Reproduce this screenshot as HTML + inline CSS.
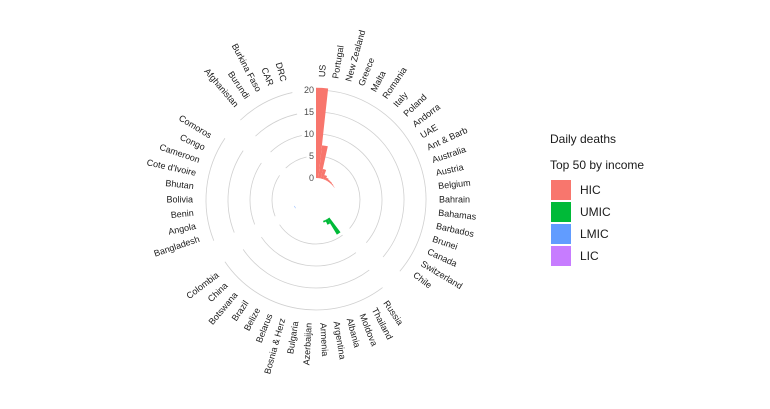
<!DOCTYPE html>
<html><head><meta charset="utf-8"><style>
body{margin:0;background:#fff;font-family:"Liberation Sans",sans-serif}
svg text{font-family:"Liberation Sans",sans-serif}
</style></head><body>
<svg id="chart" width="770" height="404" viewBox="0 0 770 404">
<g id="grid"></g>
<g id="bars"></g>
<g id="xlabels"></g>
<g id="ylabels"></g>
<g>
<text x="550" y="143" font-size="12" fill="#1a1a1a">Daily deaths</text>
<text x="550" y="169" font-size="12" fill="#1a1a1a">Top 50 by income</text>
<rect x="551" y="180" width="20" height="20" fill="#F8766D"/>
<text x="580" y="194" font-size="12" fill="#1a1a1a">HIC</text>
<rect x="551" y="202" width="20" height="20" fill="#00BA38"/>
<text x="580" y="216" font-size="12" fill="#1a1a1a">UMIC</text>
<rect x="551" y="224" width="20" height="20" fill="#619CFF"/>
<text x="580" y="238" font-size="12" fill="#1a1a1a">LMIC</text>
<rect x="551" y="246" width="20" height="20" fill="#C77CFF"/>
<text x="580" y="260" font-size="12" fill="#1a1a1a">LIC</text>
</g>
</svg>
<script>
const hicNames=["US","Portugal","New Zealand","Greece","Malta","Romania","Italy","Poland","Andorra","UAE","Ant & Barb","Australia","Austria","Belgium","Bahrain","Bahamas","Barbados","Brunei","Canada","Switzerland","Chile"];
const hicValues=[20.5,7.5,2.2,1.0,0.6,0.4,0.3,0.2,0.1,0,0,0,0,0,0,0,0,0,0,0,0];
const umicNames=["Russia","Thailand","Moldova","Albania","Argentina","Armenia","Azerbaijan","Bulgaria","Bosnia & Herz","Belarus","Belize","Brazil","Botswana","China","Colombia"];
const umicValues=[4.2,1.2,0.4,0,0,0,0,0,0,0,0,0,0,0,0];
const lmicNames=["Bangladesh","Angola","Benin","Bolivia","Bhutan","Cote d'Ivoire","Cameroon","Congo","Comoros"];
const lmicValues=[0.1,0,0,0,0,0,0,0,0];
const licNames=["Afghanistan","Burundi","Burkina Faso","CAR","DRC"];
const licValues=[0,0,0,0,0];
const yTicks=[0,5,10,15,20];
const groupColors=["#F8766D","#00BA38","#619CFF","#C77CFF"];

const NS="http://www.w3.org/2000/svg";
const cx=316,cy=200,r0=22,k=4.4,gap=2,nSlots=58,slotW=360/nSlots;
function rScale(v){return r0+k*v;}
function pt(a,r){const t=a*Math.PI/180;return [cx+r*Math.sin(t),cy-r*Math.cos(t)];}
function mk(tag,attrs,parent){const e=document.createElementNS(NS,tag);for(const a in attrs)e.setAttribute(a,attrs[a]);parent.appendChild(e);return e;}

const groups=[[hicNames,hicValues],[umicNames,umicValues],[lmicNames,lmicValues],[licNames,licValues]];
const grid=document.getElementById('grid'),bars=document.getElementById('bars'),xl=document.getElementById('xlabels'),yl=document.getElementById('ylabels');
let slot=0;
groups.forEach((g,gi)=>{
  const start=slot,end=slot+g[0].length;
  yTicks.slice(1).forEach(t=>{
    const r=rScale(t),a1=start*slotW,a2=end*slotW;
    const p1=pt(a1,r),p2=pt(a2,r);
    const arc=mk('path',{d:`M${p1[0]},${p1[1]} A${r},${r} 0 ${a2-a1>180?1:0} 1 ${p2[0]},${p2[1]}`,fill:'none',stroke:'#d0d0d0','stroke-width':0.8},grid);
    
    
  });
  g[0].forEach((name,i)=>{
    const s=slot+i,a1=s*slotW,a2=(s+1)*slotW,v=g[1][i];
    if(v>0){
      const ri=r0,ro=rScale(v);
      const p1=pt(a1,ri),p2=pt(a1,ro),p3=pt(a2,ro),p4=pt(a2,ri);
      const b=mk('path',{d:`M${p1[0]},${p1[1]} L${p2[0]},${p2[1]} A${ro},${ro} 0 0 1 ${p3[0]},${p3[1]} L${p4[0]},${p4[1]} A${ri},${ri} 0 0 0 ${p1[0]},${p1[1]}Z`,fill:groupColors[gi]},bars);
      
      
    }
    const ac=(s+0.5)*slotW,p=pt(ac,123);
    const right=ac<180;
    const rot=right?ac-90:ac-270;
    const t=mk('text',{x:p[0],y:p[1],'font-size':9,fill:'#1a1a1a','text-anchor':right?'start':'end','dominant-baseline':'middle',transform:`rotate(${rot} ${p[0]} ${p[1]})`},xl);
    t.textContent=name;
    
    
  });
  slot=end+gap;
});
yTicks.forEach(t=>{
  const y=cy-rScale(t);
  const e=mk('text',{x:314,y:y+3,'font-size':9,fill:'#4d4d4d','text-anchor':'end'},yl);
  e.textContent=t;
  
  
});
</script>
</body></html>
